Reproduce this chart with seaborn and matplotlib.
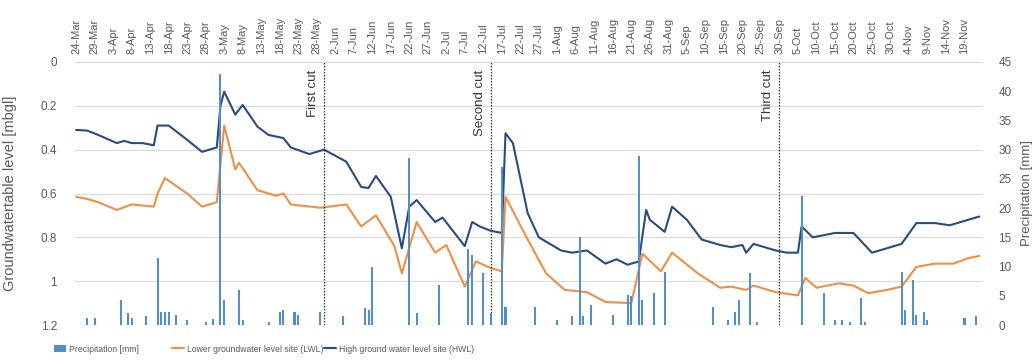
import numpy as np
import pandas as pd
import matplotlib
matplotlib.use("Agg")
import matplotlib.pyplot as plt
from matplotlib.patches import Patch
from matplotlib.lines import Line2D
import seaborn as sns

# ---------------- data ----------------
start_date = "2019-03-24"

hwl_day = [0, 3, 6, 11, 13, 15, 18, 21, 22, 25, 30, 34, 38, 39, 40, 43, 45, 49, 52, 56,
           58, 63, 67, 73, 77, 79, 81, 85, 88, 90, 92, 97, 99, 105, 107, 109, 112, 115, 116,
           118, 122, 125, 131, 134, 138, 143, 146, 149, 152, 154, 155, 159, 161, 165, 169,
           174, 177, 180, 181, 183, 189, 192, 195, 196, 199, 205, 210, 215, 219, 223, 227,
           232, 236, 241, 244]
hwl_val = [0.31, 0.313, 0.333, 0.37, 0.36, 0.37, 0.37, 0.38, 0.29, 0.29, 0.355, 0.41, 0.39,
           0.20, 0.135, 0.24, 0.196, 0.295, 0.333, 0.347, 0.39, 0.42, 0.40, 0.455, 0.57,
           0.575, 0.52, 0.615, 0.85, 0.66, 0.63, 0.73, 0.71, 0.84, 0.73, 0.75, 0.77, 0.78,
           0.325, 0.37, 0.69, 0.80, 0.86, 0.87, 0.86, 0.92, 0.90, 0.925, 0.91, 0.675, 0.72,
           0.775, 0.66, 0.72, 0.81, 0.835, 0.845, 0.835, 0.87, 0.83, 0.86, 0.87, 0.87, 0.75,
           0.80, 0.78, 0.78, 0.87, 0.85, 0.83, 0.735, 0.735, 0.745, 0.72, 0.705]

lwl_day = [0, 3, 6, 11, 15, 21, 22, 24, 30, 34, 38, 40, 43, 44, 49, 54, 56, 58, 66, 73, 77,
           81, 86, 88, 92, 97, 100, 105, 108, 112, 115, 116, 122, 127, 132, 138, 143, 150,
           153, 158, 161, 168, 174, 177, 181, 183, 189, 195, 197, 200, 206, 210, 214, 219,
           223, 227, 232, 237, 241, 244]
lwl_val = [0.615, 0.625, 0.64, 0.675, 0.65, 0.66, 0.60, 0.53, 0.60, 0.66, 0.64, 0.29, 0.49,
           0.46, 0.585, 0.61, 0.60, 0.65, 0.665, 0.65, 0.75, 0.70, 0.84, 0.965, 0.73, 0.87,
           0.835, 1.025, 0.91, 0.94, 0.955, 0.615, 0.81, 0.965, 1.04, 1.05, 1.095, 1.10,
           0.875, 0.955, 0.87, 0.965, 1.03, 1.025, 1.04, 1.02, 1.05, 1.065, 0.985, 1.03,
           1.01, 1.02, 1.055, 1.04, 1.025, 0.935, 0.92, 0.92, 0.895, 0.885]

rain_day = [3, 5, 12, 14, 15, 19, 22, 23, 24, 25, 27, 30, 35, 37, 39, 40, 44, 45, 52, 55, 56,
            59, 60, 66, 72, 78, 79, 80, 90, 92, 98, 106, 107, 110, 112, 115, 116, 124, 130,
            134, 136, 137, 139, 145, 149, 150, 152, 153, 156, 159, 172, 176, 178, 179, 182,
            184, 196, 202, 205, 207, 209, 212, 213, 223, 224, 226, 227, 229, 230, 240, 243]
rain_mm = [1.2, 1.2, 4.3, 2.0, 1.2, 1.5, 11.5, 2.3, 2.3, 2.3, 1.7, 0.8, 0.5, 1.0, 43.0, 4.3,
           6.0, 0.8, 0.5, 2.3, 2.6, 2.3, 1.7, 2.3, 1.5, 2.9, 2.6, 10.0, 28.5, 2.0, 6.9, 13.0,
           12.0, 8.9, 2.0, 27.0, 3.0, 3.0, 0.8, 1.5, 15.0, 1.5, 3.4, 1.7, 5.1, 5.0, 29.0,
           4.3, 5.5, 9.1, 3.0, 0.8, 2.3, 4.3, 8.9, 0.5, 22.0, 5.5, 0.8, 0.8, 0.5, 4.6, 0.5,
           9.1, 2.6, 7.7, 1.7, 2.3, 0.8, 1.2, 1.5]

cut_day = [67, 112, 190]
cut_labels = ["First cut", "Second cut", "Third cut"]

tick_labels = ["24-Mar", "29-Mar", "3-Apr", "8-Apr", "13-Apr", "18-Apr", "23-Apr", "28-Apr",
               "3-May", "8-May", "13-May", "18-May", "23-May", "28-May", "2-Jun", "7-Jun",
               "12-Jun", "17-Jun", "22-Jun", "27-Jun", "2-Jul", "7-Jul", "12-Jul", "17-Jul",
               "22-Jul", "27-Jul", "1-Aug", "6-Aug", "11-Aug", "16-Aug", "21-Aug", "26-Aug",
               "31-Aug", "5-Sep", "10-Sep", "15-Sep", "20-Sep", "25-Sep", "30-Sep", "5-Oct",
               "10-Oct", "15-Oct", "20-Oct", "25-Oct", "30-Oct", "4-Nov", "9-Nov", "14-Nov",
               "19-Nov"]
level_ticks = [0, 0.2, 0.4, 0.6, 0.8, 1.0, 1.2]
level_tick_labels = ["0", "0.2", "0.4", "0.6", "0.8", "1", "1.2"]
rain_ticks = [0, 5, 10, 15, 20, 25, 30, 35, 40, 45]

# ---------------- styling ----------------
sns.set_style("white")
plt.rcParams["font.family"] = ["Liberation Sans", "DejaVu Sans"]

C_HWL = "#2B4A80"
C_LWL = "#EE8F45"
C_RAIN = "#4F8FCC"
C_TXT = "#595959"

start = pd.Timestamp(start_date)
to_date = lambda d: start + pd.to_timedelta(np.asarray(d, dtype=float), unit="D")

df_h = pd.DataFrame({"date": to_date(hwl_day), "level": hwl_val})
df_l = pd.DataFrame({"date": to_date(lwl_day), "level": lwl_val})

fig = plt.figure(figsize=(10.34, 3.6), dpi=100)
ax = fig.add_axes([75 / 1034, 1 - 325 / 360, (983 - 75) / 1034, (325 - 62) / 360])

sns.lineplot(data=df_l, x="date", y="level", ax=ax, color=C_LWL, lw=1.5)
sns.lineplot(data=df_h, x="date", y="level", ax=ax, color=C_HWL, lw=1.5)

ax.set_ylim(1.2, 0)
ax.set_yticks(level_ticks)
ax.set_yticklabels(level_tick_labels)
ax.yaxis.grid(True, color="#D9D9D9", lw=0.8)
ax.set_axisbelow(True)
ax.set_xlim(start - pd.Timedelta(days=0.3), start + pd.Timedelta(days=245))
ax.set_xlabel("")
ax.set_ylabel("Groundwatertable level [mbgl]", fontsize=10.5, color=C_TXT)
ax.yaxis.set_label_coords(-0.064, 0.5)

tick_dates = pd.date_range(start, periods=len(tick_labels), freq="5D")
ax.xaxis.tick_top()
ax.set_xticks(tick_dates)
ax.set_xticklabels(tick_labels, rotation=90, fontsize=8, color=C_TXT)
ax.tick_params(axis="x", length=0, pad=6)
ax.tick_params(axis="y", length=0, labelsize=8.5, labelcolor=C_TXT, pad=13)
for s in ax.spines.values():
    s.set_visible(False)

# cut lines
for d, lab in zip(cut_day, cut_labels):
    cd = to_date([d])[0]
    ax.axvline(cd, color="#333333", lw=0.9, ls=(0, (1.2, 1.2)), zorder=3)
    ax.text(cd - pd.Timedelta(days=3.0), 0.035, lab, rotation=90, ha="center", va="top",
            fontsize=9.5, color="#333333")

# precipitation on secondary axis
ax2 = ax.twinx()
ax2.bar(to_date(rain_day), rain_mm, width=0.55, color=C_RAIN, lw=0)
ax2.set_ylim(0, 45)
ax2.set_yticks(rain_ticks)
ax2.tick_params(axis="y", length=0, labelsize=8.5, labelcolor=C_TXT, pad=11)
ax2.set_ylabel("Precipitation [mm]", fontsize=9.5, color=C_TXT)
ax2.yaxis.set_label_coords(1.042, 0.5)
for s in ax2.spines.values():
    s.set_visible(False)

# legend
items = [
    (Patch(facecolor=C_RAIN, edgecolor="none"), "Precipitation [mm]", 54),
    (Line2D([], [], color=C_LWL, lw=1.5), "Lower groundwater level site (LWL)", 172),
    (Line2D([], [], color=C_HWL, lw=1.5), "High ground water level site (HWL)", 324),
]
for h, lab, xpix in items:
    fig.legend([h], [lab], loc="center left", bbox_to_anchor=(xpix / 1034, 1 - 349 / 360),
               frameon=False, fontsize=6.2, borderpad=0, borderaxespad=0,
               handlelength=1.4, handleheight=0.9, handletextpad=0.3, labelcolor=C_TXT)

fig.savefig("out.png", dpi=100)
